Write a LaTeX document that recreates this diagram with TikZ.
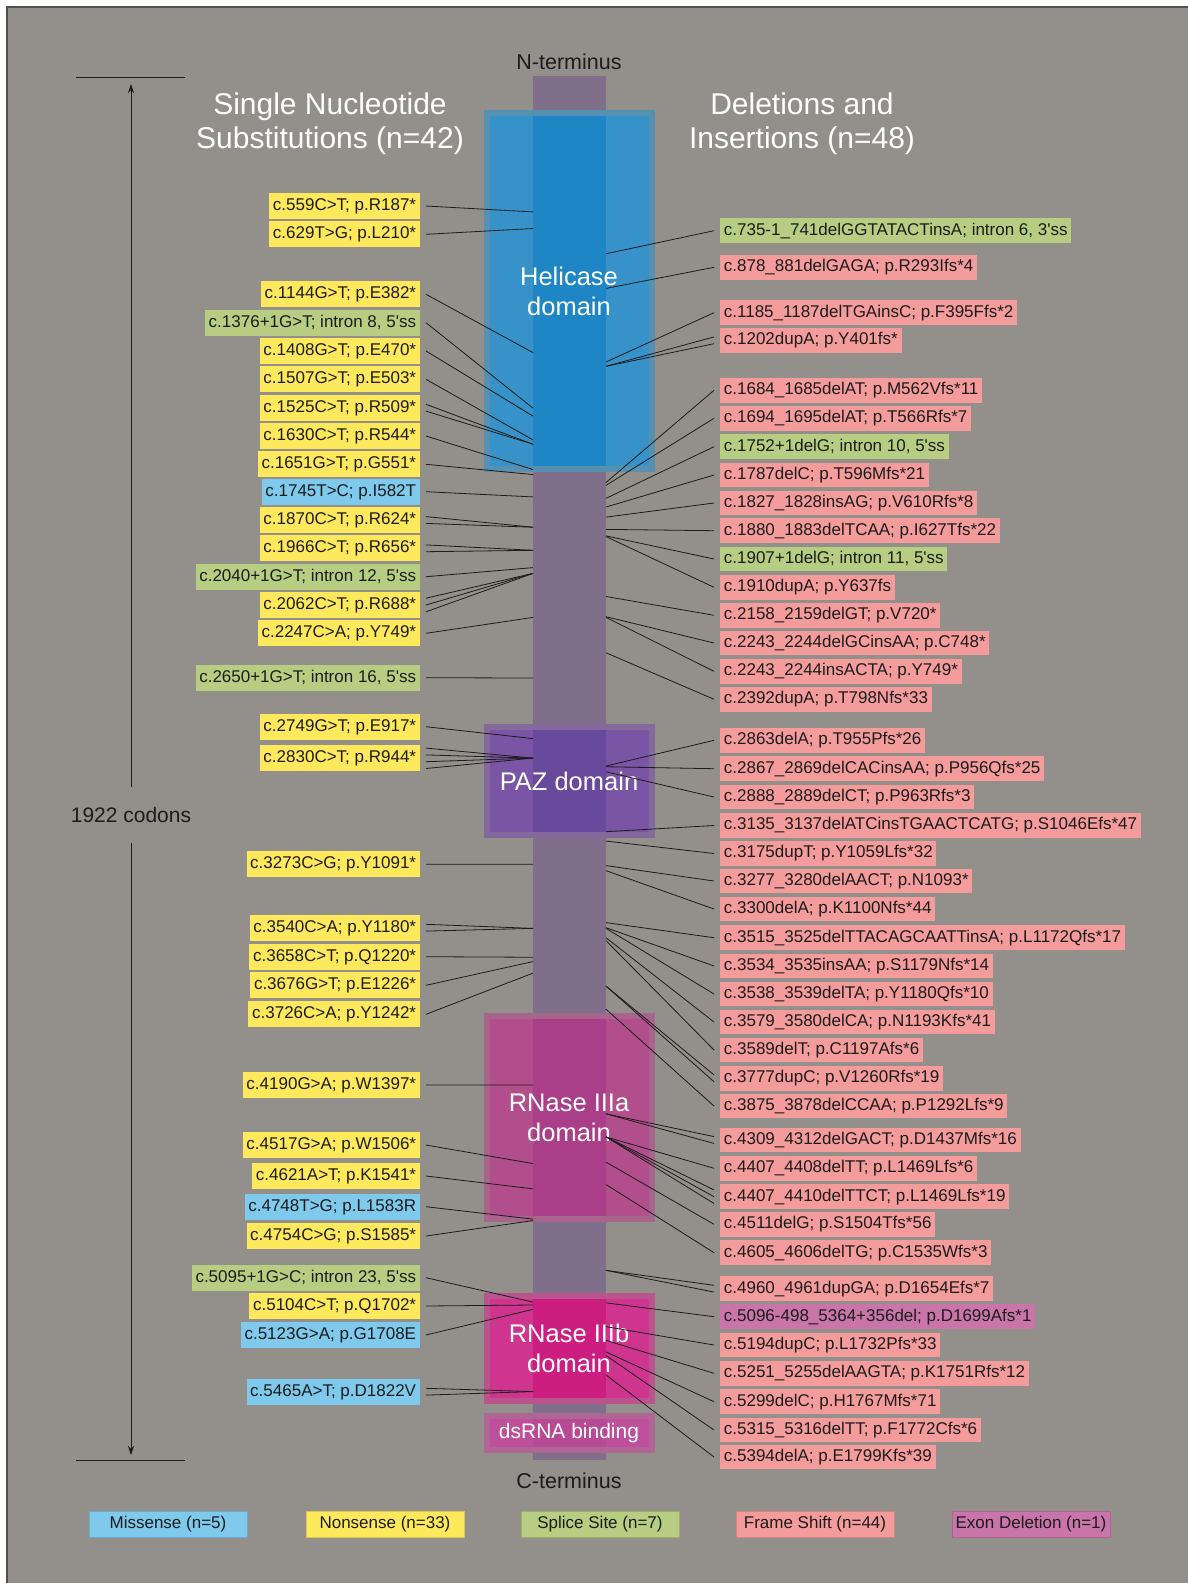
\documentclass[tikz,border=0pt]{standalone}
\usepackage{fontspec}
\setmainfont{Liberation Sans}
\usepackage[dvipsnames]{xcolor}
\usepackage{tikz}
\usetikzlibrary{arrows.meta}

\definecolor{bgGray}{RGB}{147,143,138}
\definecolor{edgeGray}{RGB}{80,80,80}
\definecolor{ink}{RGB}{28,28,28}
\definecolor{barPurple}{RGB}{127,111,138}
\definecolor{helOuter}{RGB}{54,146,200}
\definecolor{helCore}{RGB}{31,134,198}
\definecolor{pazOuter}{RGB}{122,84,165}
\definecolor{pazCore}{RGB}{104,73,156}
\definecolor{rnaOuter}{RGB}{178,78,140}
\definecolor{rnaCore}{RGB}{170,62,136}
\definecolor{rnbOuter}{RGB}{207,52,143}
\definecolor{rnbCore}{RGB}{204,30,128}
\definecolor{dsOuter}{RGB}{190,80,155}
\definecolor{dsCore}{RGB}{184,73,148}
\definecolor{miss}{RGB}{126,201,236}
\definecolor{nons}{RGB}{254,233,92}
\definecolor{splc}{RGB}{183,206,130}
\definecolor{fshf}{RGB}{244,155,156}
\definecolor{exdl}{RGB}{201,117,170}

\begin{document}
\begin{tikzpicture}[x=1pt,y=-1pt,
  lbl/.style={anchor=east,inner xsep=3.7pt,inner ysep=0pt,minimum height=26pt,text height=12.3pt,text depth=3.6pt,text=ink,font=\fontsize{17}{20}\selectfont},
  rlbl/.style={anchor=west,inner xsep=3.7pt,inner ysep=0pt,minimum height=24.5pt,text height=12.3pt,text depth=3.6pt,text=ink,font=\fontsize{17}{20}\selectfont},
  conn/.style={draw=ink,line width=0.8pt},
  corestrip/.style={path picture={\fill[#1] ([xshift=-36.5pt]path picture bounding box.north) rectangle ([xshift=36.5pt]path picture bounding box.south);}},
  domainbox/.style={inner sep=0pt,minimum width=165pt,line width=6pt,text=white,align=center,font=\fontsize{25.5}{30}\selectfont},
  hdr/.style={text=white,align=center,font=\fontsize{30}{34}\selectfont},
  term/.style={text=ink,font=\fontsize{21.5}{24}\selectfont},
  legendbox/.style={minimum width=158pt,minimum height=26pt,inner sep=0pt,text=ink,line width=0.5pt,font=\fontsize{17}{20}\selectfont}]

\useasboundingbox (0,0) rectangle (1188,1583);
\fill[white] (0,0) rectangle (1188,1583);
\fill[bgGray] (7,7) rectangle (1188,1583);
\draw[edgeGray,line width=1.5pt] (7,1583) -- (7,7) -- (1188,7);

% protein and its domains
\node[fill=barPurple,minimum width=73pt,minimum height=1384pt,inner sep=0pt] (protein) at (569.5,768) {};
\node[domainbox,fill=helOuter,draw=helOuter!65!bgGray,corestrip=helCore,minimum height=356pt] (helicase) at (569,291) {Helicase\\domain};
\node[domainbox,fill=pazOuter,draw=pazOuter!65!bgGray,corestrip=pazCore,minimum height=108pt] (paz) at (569,781) {PAZ domain};
\node[domainbox,fill=rnaOuter,draw=rnaOuter!65!bgGray,corestrip=rnaCore,minimum height=203pt] (rnase-a) at (569,1117.5) {RNase IIIa\\domain};
\node[domainbox,fill=rnbOuter,draw=rnbOuter!65!bgGray,corestrip=rnbCore,minimum height=105pt] (rnase-b) at (569,1348.5) {RNase IIIb\\domain};
\node[domainbox,fill=dsOuter,draw=dsOuter!65!bgGray,corestrip=dsCore,minimum height=34pt,font=\fontsize{21}{24}\selectfont] (dsrna) at (569,1433) {dsRNA binding};

\node[term] (nterm) at (569,62) {N-terminus};
\node[term] (cterm) at (569,1481) {C-terminus};
\node[hdr] (snv-head) at (330,124) {Single Nucleotide\\Substitutions (n=42)};
\node[hdr] (indel-head) at (802,124) {Deletions and\\Insertions (n=48)};

% length of the protein
\coordinate (len-top) at (131,84);
\coordinate (len-bot) at (131,1455);
\node[term,font=\fontsize{21}{24}\selectfont,minimum height=56pt,inner sep=0pt] (len) at (131,815) {1922 codons};
\draw[conn,-{Stealth[length=9pt,width=6pt]}] (len.north) -- (len-top);
\draw[conn,-{Stealth[length=9pt,width=6pt]}] (len.south) -- (len-bot);
\draw[conn] (76,77) -- (185,77);
\draw[conn] (76,1460) -- (185,1460);

% single nucleotide substitutions
\foreach \k/\ly/\cd/\col/\n/\txt in {
  1/206/187/nons/1/{c.559C>T; p.R187*},
  2/234.3/210/nons/1/{c.629T>G; p.L210*},
  3/294.3/382/nons/1/{c.1144G>T; p.E382*},
  4/322.7/459/splc/1/{c.1376+1G>T; intron 8, 5\textquotesingle ss},
  5/351/470/nons/1/{c.1408G>T; p.E470*},
  6/379.3/503/nons/1/{c.1507G>T; p.E503*},
  7/407.7/509/nons/2/{c.1525C>T; p.R509*},
  8/436/544/nons/1/{c.1630C>T; p.R544*},
  9/464.3/551/nons/1/{c.1651G>T; p.G551*},
  10/491.7/582/miss/1/{c.1745T>C; p.I582T},
  11/520/624/nons/2/{c.1870C>T; p.R624*},
  12/548.3/656/nons/2/{c.1966C>T; p.R656*},
  13/576.7/680/splc/1/{c.2040+1G>T; intron 12, 5\textquotesingle ss},
  14/605/688/nons/3/{c.2062C>T; p.R688*},
  15/633.3/749/nons/1/{c.2247C>A; p.Y749*},
  16/677.7/833/splc/1/{c.2650+1G>T; intron 16, 5\textquotesingle ss},
  17/726.7/917/nons/1/{c.2749G>T; p.E917*},
  18/758.3/944/nons/4/{c.2830C>T; p.R944*},
  19/864.3/1091/nons/1/{c.3273C>G; p.Y1091*},
  20/927.7/1180/nons/2/{c.3540C>A; p.Y1180*},
  21/956.7/1220/nons/1/{c.3658C>T; p.Q1220*},
  22/985.3/1226/nons/1/{c.3676G>T; p.E1226*},
  23/1014.3/1242/nons/1/{c.3726C>A; p.Y1242*},
  24/1085/1397/nons/1/{c.4190G>A; p.W1397*},
  25/1145/1506/nons/1/{c.4517G>A; p.W1506*},
  26/1176/1541/nons/1/{c.4621A>T; p.K1541*},
  27/1206.7/1583/miss/1/{c.4748T>G; p.L1583R},
  28/1236/1585/nons/1/{c.4754C>G; p.S1585*},
  29/1277.7/1698/splc/1/{c.5095+1G>C; intron 23, 5\textquotesingle ss},
  30/1306/1702/nons/1/{c.5104C>T; p.Q1702*},
  31/1335/1708/miss/1/{c.5123G>A; p.G1708E},
  32/1391.7/1822/miss/2/{c.5465A>T; p.D1822V}}{
  \node[lbl,fill=\col] (snv-\k) at (420,\ly) {\txt};
  \coordinate (snv-bar-\k) at (533,{77+\cd*0.7215});
  \foreach \i in {1,...,\n}
    \draw[conn] ([xshift=6pt,yshift={(\n+1-2*\i)*3.4pt}]snv-\k.east) -- (snv-bar-\k);
};

% deletions and insertions
\foreach \k/\ly/\cd/\col/\n/\txt in {
  1/230.7/245/splc/1/{c.735-1\_741delGGTATACTinsA; intron 6, 3\textquotesingle ss},
  2/267.3/293/fshf/1/{c.878\_881delGAGA; p.R293Ifs*4},
  3/312.7/395/fshf/1/{c.1185\_1187delTGAinsC; p.F395Ffs*2},
  4/340.3/401/fshf/2/{c.1202dupA; p.Y401fs*},
  5/390.3/562/fshf/1/{c.1684\_1685delAT; p.M562Vfs*11},
  6/418.3/566/fshf/1/{c.1694\_1695delAT; p.T566Rfs*7},
  7/446.7/584/splc/1/{c.1752+1delG; intron 10, 5\textquotesingle ss},
  8/475/596/fshf/1/{c.1787delC; p.T596Mfs*21},
  9/503/610/fshf/1/{c.1827\_1828insAG; p.V610Rfs*8},
  10/530.7/627/fshf/1/{c.1880\_1883delTCAA; p.I627Tfs*22},
  11/559/636/splc/1/{c.1907+1delG; intron 11, 5\textquotesingle ss},
  12/587.3/637/fshf/1/{c.1910dupA; p.Y637fs},
  13/615.3/720/fshf/1/{c.2158\_2159delGT; p.V720*},
  14/643/748/fshf/1/{c.2243\_2244delGCinsAA; p.C748*},
  15/671.3/749/fshf/1/{c.2243\_2244insACTA; p.Y749*},
  16/699.3/798/fshf/1/{c.2392dupA; p.T798Nfs*33},
  17/740.3/955/fshf/1/{c.2863delA; p.T955Pfs*26},
  18/768.7/956/fshf/1/{c.2867\_2869delCACinsAA; p.P956Qfs*25},
  19/797/963/fshf/1/{c.2888\_2889delCT; p.P963Rfs*3},
  20/825.5/1046/fshf/1/{c.3135\_3137delATCinsTGAACTCATG; p.S1046Efs*47},
  21/853.5/1059/fshf/1/{c.3175dupT; p.Y1059Lfs*32},
  22/881/1093/fshf/1/{c.3277\_3280delAACT; p.N1093*},
  23/909/1100/fshf/1/{c.3300delA; p.K1100Nfs*44},
  24/937.7/1172/fshf/1/{c.3515\_3525delTTACAGCAATTinsA; p.L1172Qfs*17},
  25/966/1179/fshf/1/{c.3534\_3535insAA; p.S1179Nfs*14},
  26/994/1180/fshf/1/{c.3538\_3539delTA; p.Y1180Qfs*10},
  27/1022/1193/fshf/1/{c.3579\_3580delCA; p.N1193Kfs*41},
  28/1050/1197/fshf/1/{c.3589delT; p.C1197Afs*6},
  29/1078.3/1260/fshf/2/{c.3777dupC; p.V1260Rfs*19},
  30/1106/1292/fshf/1/{c.3875\_3878delCCAA; p.P1292Lfs*9},
  31/1140/1437/fshf/2/{c.4309\_4312delGACT; p.D1437Mfs*16},
  32/1168.3/1469/fshf/1/{c.4407\_4408delTT; p.L1469Lfs*6},
  33/1196.7/1469/fshf/3/{c.4407\_4410delTTCT; p.L1469Lfs*19},
  34/1224.3/1504/fshf/1/{c.4511delG; p.S1504Tfs*56},
  35/1252.7/1535/fshf/1/{c.4605\_4606delTG; p.C1535Wfs*3},
  36/1288.7/1654/fshf/2/{c.4960\_4961dupGA; p.D1654Efs*7},
  37/1316.7/1699/exdl/1/{c.5096-498\_5364+356del; p.D1699Afs*1},
  38/1345/1732/fshf/1/{c.5194dupC; p.L1732Pfs*33},
  39/1373.3/1751/fshf/1/{c.5251\_5255delAAGTA; p.K1751Rfs*12},
  40/1401.7/1767/fshf/1/{c.5299delC; p.H1767Mfs*71},
  41/1430/1772/fshf/1/{c.5315\_5316delTT; p.F1772Cfs*6},
  42/1457/1799/fshf/1/{c.5394delA; p.E1799Kfs*39}}{
  \node[rlbl,fill=\col] (indel-\k) at (720,\ly) {\txt};
  \coordinate (indel-bar-\k) at (606,{77+\cd*0.7215});
  \foreach \i in {1,...,\n}
    \draw[conn] (indel-bar-\k) -- ([xshift=-6pt,yshift={(\n+1-2*\i)*3.4pt}]indel-\k.west);
};

% legend
\foreach \k/\x/\col/\txt in {1/168/miss/{Missense (n=5)},2/385/nons/{Nonsense (n=33)},3/600/splc/{Splice Site (n=7)},4/815/fshf/{Frame Shift (n=44)},5/1031/exdl/{Exon Deletion (n=1)}}
  \node[legendbox,fill=\col,draw=\col!85!black] (key-\k) at (\x,1524.5) {\txt};
\end{tikzpicture}
\end{document}
